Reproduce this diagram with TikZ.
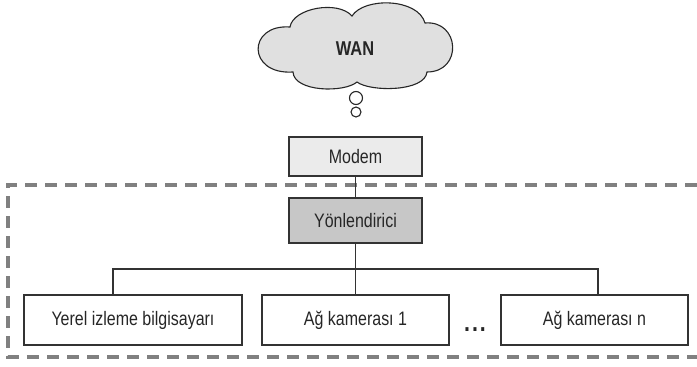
\documentclass[tikz,border=0pt]{standalone}
\usepackage{fontspec}
\setmainfont[FakeStretch=0.82]{Liberation Sans}
\begin{document}
\begin{tikzpicture}[x=1pt,y=-1pt,
  box/.style={draw=black!80, line width=1.1pt, minimum width=#1, inner sep=0pt, font=\fontsize{19.5}{22}\selectfont, text=black!85},
  conn/.style={draw=black!80, line width=1.1pt},
  frame/.style={draw=black!50, line width=3.2pt, dash pattern=on 12pt off 8pt}]
\useasboundingbox (0,0) rectangle (697,367);
% cloud
\draw[fill=black!12, draw=black!85, line width=1.1pt]
  (290,27) .. controls (293,8) and (338,0) .. (352,16)
  .. controls (364,-3) and (418,-2) .. (425,23)
  .. controls (460,20) and (463,72) .. (427,72)
  .. controls (425,92) and (370,92) .. (357,82)
  .. controls (344,93) and (294,92) .. (293,72)
  .. controls (247,75) and (247,24) .. (290,27) -- cycle;
\node[font=\fontsize{20}{22}\bfseries\selectfont, text=black!85] (wan) at (355,49) {WAN};
\node[draw=black!85, line width=1.1pt, fill=white, circle, minimum size=13pt, inner sep=0pt] (c1) at (356,98) {};
\node[draw=black!85, line width=1.1pt, fill=white, circle, minimum size=10pt, inner sep=0pt] (c2) at (356,112) {};
% frame
\coordinate (ftr) at (697,185);
\coordinate (ftl) at (8,185);
\coordinate (fbl) at (8,357);
\coordinate (fbr) at (697,357);
\draw[frame] (ftr) -- (ftl) -- (fbl) -- (fbr);
% boxes
\node[box=133pt, minimum height=39pt, fill=black!8] (modem) at (355.5,156.5) {Modem};
\node[box=133pt, minimum height=45pt, fill=black!22] (router) at (355.5,220.5) {Yönlendirici};
\node[box=218pt, minimum height=50pt, fill=white] (b1) at (133,320) {Yerel izleme bilgisayarı};
\node[box=187pt, minimum height=50pt, fill=white] (b2) at (355.5,320) {Ağ kamerası 1};
\node[box=187pt, minimum height=50pt, fill=white] (b3) at (594.5,320) {Ağ kamerası n};
\node[font=\fontsize{26}{28}\bfseries\selectfont, text=black!85, anchor=base] (dots) at (475,331) {.\hspace{2pt}.\hspace{2pt}.};
% connectors
\draw[conn] (modem.south) -- (router.north);
\draw[conn] (router.south) -- (b2.north);
\coordinate (bl) at (113,269);
\coordinate (br) at (598,269);
\draw[conn] ([xshift=-20pt]b1.north) -- (bl) -- (br) -- ([xshift=3.5pt]b3.north);
\end{tikzpicture}
\end{document}
